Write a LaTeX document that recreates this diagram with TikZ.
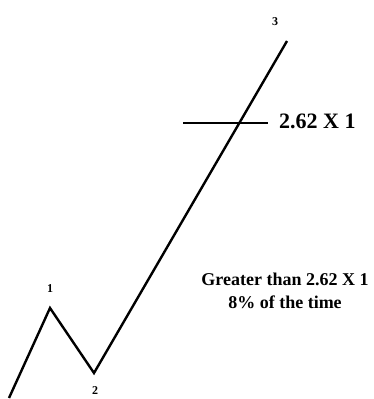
\documentclass[tikz,border=0pt]{standalone}
\usepackage{fontspec}
\setmainfont{Liberation Serif}
\usepackage{tikz}
\definecolor{wave-ink}{RGB}{0,0,0}

\begin{document}
\begin{tikzpicture}[x=1pt,y=-1pt,
    wave/.style={line width=2.4pt, wave-ink, line join=miter},
    lbl/.style={font=\fontsize{12}{14}\selectfont\bfseries, inner sep=0pt}]
    \useasboundingbox (0,0) rectangle (373,399);

    \coordinate (w0) at (9,398);
    \coordinate (w1) at (50,308);
    \coordinate (w2) at (94,373);
    \coordinate (w3) at (287,41);
    \draw[wave] (w0) -- (w1) -- (w2) -- (w3);

    \node[lbl] (n1) at (50,289) {1};
    \node[lbl] (n2) at (95,391) {2};
    \node[lbl] (n3) at (275,22) {3};

    \coordinate (lvlL) at (183,123);
    \coordinate (lvlR) at (268,123);
    \draw[line width=1.2pt] (lvlL) -- (lvlR);
    \node[anchor=west, font=\fontsize{22}{24}\selectfont\bfseries, inner sep=0pt]
        (ext) at (279,121) {2.62 X 1};

    \node[align=center, font=\fontsize{18}{23}\selectfont\bfseries, inner sep=0pt]
        (note) at (285,291) {Greater than 2.62 X 1\\8\% of the time};
\end{tikzpicture}
\end{document}
